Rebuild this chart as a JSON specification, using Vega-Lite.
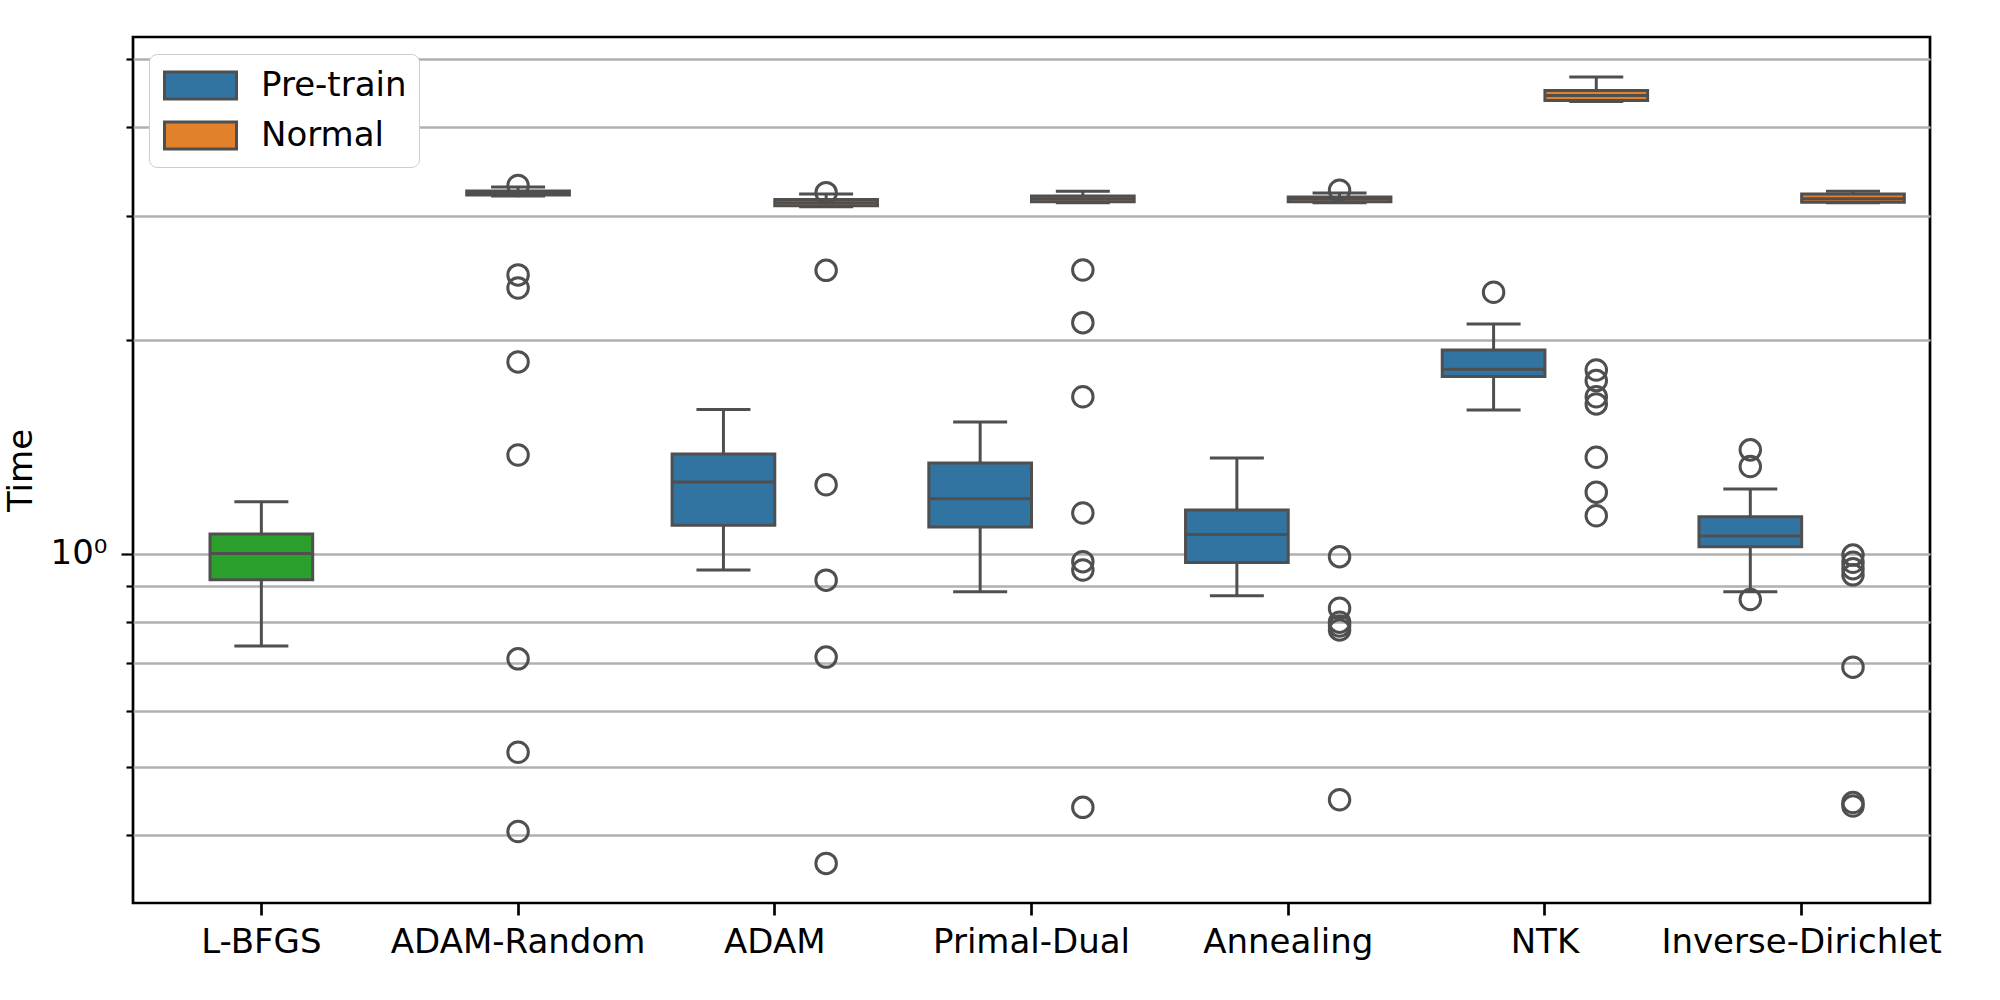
{
  "$schema": "https://vega.github.io/schema/vega-lite/v6.json",
  "width": 1797,
  "height": 866,
  "autosize": {"type": "none"},
  "padding": {"left": 133, "top": 37, "right": 70, "bottom": 97},
  "background": "white",
  "datasets": {
    "boxes": [
      {"method": "L-BFGS", "group": "L-BFGS", "lower": 0.740, "q1": 0.918, "median": 1.0, "q3": 1.066, "upper": 1.183},
      {"method": "ADAM-Random", "group": "Normal", "lower": 3.20, "q1": 3.21, "median": 3.23, "q3": 3.253, "upper": 3.295},
      {"method": "ADAM", "group": "Pre-train", "lower": 0.948, "q1": 1.096, "median": 1.262, "q3": 1.382, "upper": 1.598},
      {"method": "ADAM", "group": "Normal", "lower": 3.09, "q1": 3.10, "median": 3.13, "q3": 3.164, "upper": 3.22},
      {"method": "Primal-Dual", "group": "Pre-train", "lower": 0.883, "q1": 1.090, "median": 1.195, "q3": 1.342, "upper": 1.534},
      {"method": "Primal-Dual", "group": "Normal", "lower": 3.13, "q1": 3.14, "median": 3.17, "q3": 3.20, "upper": 3.25},
      {"method": "Annealing", "group": "Pre-train", "lower": 0.872, "q1": 0.971, "median": 1.064, "q3": 1.152, "upper": 1.365},
      {"method": "Annealing", "group": "Normal", "lower": 3.13, "q1": 3.14, "median": 3.17, "q3": 3.19, "upper": 3.23},
      {"method": "NTK", "group": "Pre-train", "lower": 1.595, "q1": 1.778, "median": 1.821, "q3": 1.939, "upper": 2.110},
      {"method": "NTK", "group": "Normal", "lower": 4.35, "q1": 4.365, "median": 4.435, "q3": 4.51, "upper": 4.71},
      {"method": "Inverse-Dirichlet", "group": "Pre-train", "lower": 0.883, "q1": 1.022, "median": 1.059, "q3": 1.127, "upper": 1.234},
      {"method": "Inverse-Dirichlet", "group": "Normal", "lower": 3.13, "q1": 3.135, "median": 3.17, "q3": 3.22, "upper": 3.25}
    ],
    "outliers": [
      {"method": "ADAM-Random", "group": "Normal", "value": 3.31},
      {"method": "ADAM-Random", "group": "Normal", "value": 2.475},
      {"method": "ADAM-Random", "group": "Normal", "value": 2.372},
      {"method": "ADAM-Random", "group": "Normal", "value": 1.865},
      {"method": "ADAM-Random", "group": "Normal", "value": 1.378},
      {"method": "ADAM-Random", "group": "Normal", "value": 0.710},
      {"method": "ADAM-Random", "group": "Normal", "value": 0.524},
      {"method": "ADAM-Random", "group": "Normal", "value": 0.405},
      {"method": "ADAM", "group": "Normal", "value": 3.234},
      {"method": "ADAM", "group": "Normal", "value": 2.512},
      {"method": "ADAM", "group": "Normal", "value": 1.251},
      {"method": "ADAM", "group": "Normal", "value": 0.917},
      {"method": "ADAM", "group": "Normal", "value": 0.714},
      {"method": "ADAM", "group": "Normal", "value": 0.365},
      {"method": "Primal-Dual", "group": "Normal", "value": 2.515},
      {"method": "Primal-Dual", "group": "Normal", "value": 2.119},
      {"method": "Primal-Dual", "group": "Normal", "value": 1.665},
      {"method": "Primal-Dual", "group": "Normal", "value": 1.141},
      {"method": "Primal-Dual", "group": "Normal", "value": 0.974},
      {"method": "Primal-Dual", "group": "Normal", "value": 0.948},
      {"method": "Primal-Dual", "group": "Normal", "value": 0.438},
      {"method": "Annealing", "group": "Normal", "value": 3.26},
      {"method": "Annealing", "group": "Normal", "value": 0.990},
      {"method": "Annealing", "group": "Normal", "value": 0.837},
      {"method": "Annealing", "group": "Normal", "value": 0.800},
      {"method": "Annealing", "group": "Normal", "value": 0.790},
      {"method": "Annealing", "group": "Normal", "value": 0.780},
      {"method": "Annealing", "group": "Normal", "value": 0.449},
      {"method": "NTK", "group": "Pre-train", "value": 2.339},
      {"method": "NTK", "group": "Normal", "value": 1.817},
      {"method": "NTK", "group": "Normal", "value": 1.755},
      {"method": "NTK", "group": "Normal", "value": 1.665},
      {"method": "NTK", "group": "Normal", "value": 1.627},
      {"method": "NTK", "group": "Normal", "value": 1.368},
      {"method": "NTK", "group": "Normal", "value": 1.221},
      {"method": "NTK", "group": "Normal", "value": 1.131},
      {"method": "Inverse-Dirichlet", "group": "Pre-train", "value": 1.401},
      {"method": "Inverse-Dirichlet", "group": "Pre-train", "value": 1.327},
      {"method": "Inverse-Dirichlet", "group": "Pre-train", "value": 0.861},
      {"method": "Inverse-Dirichlet", "group": "Normal", "value": 0.995},
      {"method": "Inverse-Dirichlet", "group": "Normal", "value": 0.972},
      {"method": "Inverse-Dirichlet", "group": "Normal", "value": 0.952},
      {"method": "Inverse-Dirichlet", "group": "Normal", "value": 0.933},
      {"method": "Inverse-Dirichlet", "group": "Normal", "value": 0.691},
      {"method": "Inverse-Dirichlet", "group": "Normal", "value": 0.445},
      {"method": "Inverse-Dirichlet", "group": "Normal", "value": 0.440}
    ]
  },
  "encoding": {
    "x": {
      "field": "method",
      "type": "nominal",
      "sort": ["L-BFGS", "ADAM-Random", "ADAM", "Primal-Dual", "Annealing", "NTK", "Inverse-Dirichlet"],
      "scale": {"paddingInner": 0, "paddingOuter": 0},
      "title": null,
      "axis": {"labelAngle": 0, "labelLimit": 0}
    }
  },
  "layer": [
    {
      "data": {"name": "boxes"},
      "transform": [{"filter": "datum.method != 'L-BFGS' && datum.method != 'ADAM-Random'"}],
      "mark": {"type": "rule", "stroke": "#4f4f4f", "strokeWidth": 3},
      "encoding": {
        "xOffset": {"field": "group", "type": "nominal", "scale": {"type": "band", "domain": ["Pre-train", "Normal"], "paddingInner": 0, "paddingOuter": 0.25}},
        "y": {
          "field": "lower", "type": "quantitative",
          "scale": {"type": "log", "domain": [0.3209, 5.366], "nice": false, "zero": false},
          "title": "Time",
          "axis": {
            "values": [0.4, 0.5, 0.6, 0.7, 0.8, 0.9, 1, 2, 3, 4, 5],
            "labelExpr": "datum.value == 1 ? '10⁰' : ''",
            "tickSize": {"condition": {"test": "datum.value == 1", "value": 12}, "value": 7},
            "labelPadding": 14,
            "titleX": -102,
            "titleY": 433,
            "titleAngle": -90,
            "titleAlign": "center",
            "titleBaseline": "alphabetic"
          }
        },
        "y2": {"field": "upper"}
      }
    },
    {
      "data": {"name": "boxes"},
      "transform": [{"filter": "datum.method != 'L-BFGS' && datum.method != 'ADAM-Random'"}],
      "mark": {"type": "bar", "stroke": "#4f4f4f", "strokeWidth": 3, "opacity": 1},
      "encoding": {
        "xOffset": {"field": "group", "type": "nominal"},
        "y": {"field": "q1", "type": "quantitative", "title": "Time"},
        "y2": {"field": "q3"},
        "fill": {
          "field": "group", "type": "nominal",
          "scale": {"domain": ["Pre-train", "Normal", "L-BFGS"], "range": ["#3274a1", "#e1812c", "#2ca02c"]},
          "legend": {
            "orient": "none", "legendX": 16, "legendY": 17, "title": null,
            "values": ["Pre-train", "Normal"],
            "symbolType": "M-2,-0.75H2V0.75H-2Z", "symbolSize": 1296,
            "symbolOffset": 20,
            "symbolStrokeColor": "#4f4f4f", "symbolStrokeWidth": 3, "symbolOpacity": 1,
            "labelFontSize": 34, "labelFont": "DejaVu Sans", "labelColor": "black",
            "labelOffset": 41, "rowPadding": 11, "padding": 12,
            "fillColor": "white", "strokeColor": "#cccccc", "cornerRadius": 8
          }
        }
      }
    },
    {
      "data": {"name": "boxes"},
      "transform": [{"filter": "datum.method != 'L-BFGS' && datum.method != 'ADAM-Random'"}],
      "mark": {"type": "tick", "color": "#4f4f4f", "size": 103, "thickness": 3, "opacity": 1},
      "encoding": {
        "xOffset": {"field": "group", "type": "nominal"},
        "y": {"field": "median", "type": "quantitative", "title": "Time"}
      }
    },
    {
      "data": {"name": "boxes"},
      "transform": [{"filter": "datum.method != 'L-BFGS' && datum.method != 'ADAM-Random'"}],
      "mark": {"type": "tick", "color": "#4f4f4f", "size": 54, "thickness": 3, "opacity": 1},
      "encoding": {
        "xOffset": {"field": "group", "type": "nominal"},
        "y": {"field": "lower", "type": "quantitative", "title": "Time"}
      }
    },
    {
      "data": {"name": "boxes"},
      "transform": [{"filter": "datum.method != 'L-BFGS' && datum.method != 'ADAM-Random'"}],
      "mark": {"type": "tick", "color": "#4f4f4f", "size": 54, "thickness": 3, "opacity": 1},
      "encoding": {
        "xOffset": {"field": "group", "type": "nominal"},
        "y": {"field": "upper", "type": "quantitative", "title": "Time"}
      }
    },
    {
      "data": {"name": "outliers"},
      "transform": [{"filter": "datum.method != 'L-BFGS' && datum.method != 'ADAM-Random'"}],
      "mark": {"type": "point", "shape": "circle", "filled": false, "stroke": "#4f4f4f", "strokeWidth": 3, "size": 420, "opacity": 1},
      "encoding": {
        "xOffset": {"field": "group", "type": "nominal"},
        "y": {"field": "value", "type": "quantitative", "title": "Time"}
      }
    },
    {
      "data": {"name": "boxes"},
      "transform": [{"filter": "datum.method == 'L-BFGS' || datum.method == 'ADAM-Random'"}],
      "mark": {"type": "rule", "stroke": "#4f4f4f", "strokeWidth": 3},
      "encoding": {
        "y": {"field": "lower", "type": "quantitative", "title": "Time"},
        "y2": {"field": "upper"}
      }
    },
    {
      "data": {"name": "boxes"},
      "transform": [{"filter": "datum.method == 'L-BFGS' || datum.method == 'ADAM-Random'"}],
      "mark": {"type": "bar", "stroke": "#4f4f4f", "strokeWidth": 3, "opacity": 1, "width": {"band": 0.4}},
      "encoding": {
        "y": {"field": "q1", "type": "quantitative", "title": "Time"},
        "y2": {"field": "q3"},
        "fill": {"field": "group", "type": "nominal"}
      }
    },
    {
      "data": {"name": "boxes"},
      "transform": [{"filter": "datum.method == 'L-BFGS' || datum.method == 'ADAM-Random'"}],
      "mark": {"type": "tick", "color": "#4f4f4f", "size": 103, "thickness": 3, "opacity": 1},
      "encoding": {
        "y": {"field": "median", "type": "quantitative", "title": "Time"}
      }
    },
    {
      "data": {"name": "boxes"},
      "transform": [{"filter": "datum.method == 'L-BFGS' || datum.method == 'ADAM-Random'"}],
      "mark": {"type": "tick", "color": "#4f4f4f", "size": 54, "thickness": 3, "opacity": 1},
      "encoding": {
        "y": {"field": "lower", "type": "quantitative", "title": "Time"}
      }
    },
    {
      "data": {"name": "boxes"},
      "transform": [{"filter": "datum.method == 'L-BFGS' || datum.method == 'ADAM-Random'"}],
      "mark": {"type": "tick", "color": "#4f4f4f", "size": 54, "thickness": 3, "opacity": 1},
      "encoding": {
        "y": {"field": "upper", "type": "quantitative", "title": "Time"}
      }
    },
    {
      "data": {"name": "outliers"},
      "transform": [{"filter": "datum.method == 'L-BFGS' || datum.method == 'ADAM-Random'"}],
      "mark": {"type": "point", "shape": "circle", "filled": false, "stroke": "#4f4f4f", "strokeWidth": 3, "size": 420, "opacity": 1},
      "encoding": {
        "y": {"field": "value", "type": "quantitative", "title": "Time"}
      }
    }
  ],
  "config": {
    "font": "DejaVu Sans",
    "view": {"stroke": "black", "strokeWidth": 2.7},
    "axis": {
      "labelFont": "DejaVu Sans", "titleFont": "DejaVu Sans",
      "labelFontSize": 34, "titleFontSize": 34, "labelColor": "black", "titleColor": "black",
      "titleFontWeight": "normal", "tickColor": "black", "domain": false
    },
    "axisX": {"grid": false, "tickSize": 12, "tickWidth": 2.7, "labelPadding": 10},
    "axisY": {"grid": true, "gridColor": "#b0b0b0", "gridWidth": 2.7, "tickWidth": 2.2}
  }
}
